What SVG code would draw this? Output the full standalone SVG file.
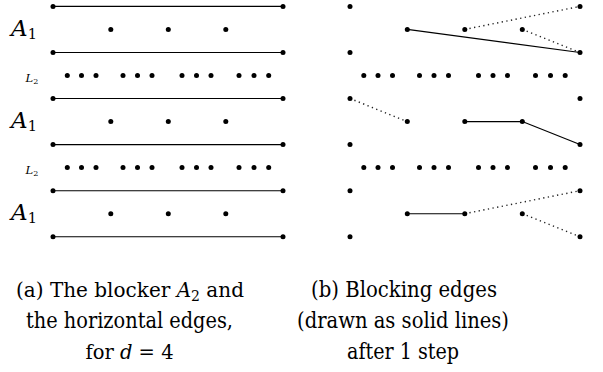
<svg xmlns="http://www.w3.org/2000/svg" width="603" height="372" viewBox="0 0 603 372">
<style>
.dot{fill:#000}
.hl{stroke:#000;stroke-width:1.1;fill:none}
.solid{stroke:#000;stroke-width:1.1;fill:none}
.dotted{stroke:#222;stroke-width:1.4;fill:none;stroke-dasharray:1.3 3.4}
.cap{font-family:"DejaVu Serif",serif;font-size:21.5px;fill:#000}
.lab{font-family:"DejaVu Serif",serif;fill:#000}
</style>
<defs>
<circle id="v" r="2.5" class="dot"/>
<g id="l2row">
<use href="#v" x="67.3"/><use href="#v" x="81.5"/><use href="#v" x="96"/>
<use href="#v" x="123"/><use href="#v" x="137.5"/><use href="#v" x="152"/>
<use href="#v" x="182"/><use href="#v" x="196.5"/><use href="#v" x="211"/>
<use href="#v" x="239"/><use href="#v" x="254"/><use href="#v" x="268.7"/>
</g>
<g id="a1row">
<use href="#v" x="110.8"/><use href="#v" x="168.3"/><use href="#v" x="225.8"/>
</g>
</defs>

<!-- Panel (a) -->
<g id="panel-a">
<g id="a-edges">
<line class="hl" x1="53" y1="6.4" x2="283" y2="6.4"/>
<line class="hl" x1="53" y1="52.5" x2="283" y2="52.5"/>
<line class="hl" x1="53" y1="98.5" x2="283" y2="98.5"/>
<line class="hl" x1="53" y1="144.6" x2="283" y2="144.6"/>
<line class="hl" x1="53" y1="190.7" x2="283" y2="190.7"/>
<line class="hl" x1="53" y1="236.7" x2="283" y2="236.7"/>
</g>
<g id="a-ends">
<use href="#v" x="53" y="6.4"/><use href="#v" x="283" y="6.4"/>
<use href="#v" x="53" y="52.5"/><use href="#v" x="283" y="52.5"/>
<use href="#v" x="53" y="98.5"/><use href="#v" x="283" y="98.5"/>
<use href="#v" x="53" y="144.6"/><use href="#v" x="283" y="144.6"/>
<use href="#v" x="53" y="190.7"/><use href="#v" x="283" y="190.7"/>
<use href="#v" x="53" y="236.7"/><use href="#v" x="283" y="236.7"/>
</g>
<g id="a-A1-1"><use href="#a1row" y="29.4"/></g>
<g id="a-L2-1"><use href="#l2row" y="75.5"/></g>
<g id="a-A1-2"><use href="#a1row" y="121.6"/></g>
<g id="a-L2-2"><use href="#l2row" y="167.6"/></g>
<g id="a-A1-3"><use href="#a1row" y="213.7"/></g>
<g id="a-labels">
<text class="lab" x="11" y="35.5" font-size="23"><tspan font-style="italic">A</tspan><tspan font-size="14.5" dy="3">1</tspan></text>
<text class="lab" x="25.5" y="81.8" font-size="11.5"><tspan font-style="italic">L</tspan><tspan font-size="8" dy="2.5">2</tspan></text>
<text class="lab" x="11" y="127.7" font-size="23"><tspan font-style="italic">A</tspan><tspan font-size="14.5" dy="3">1</tspan></text>
<text class="lab" x="25.5" y="173.9" font-size="11.5"><tspan font-style="italic">L</tspan><tspan font-size="8" dy="2.5">2</tspan></text>
<text class="lab" x="11" y="219.8" font-size="23"><tspan font-style="italic">A</tspan><tspan font-size="14.5" dy="3">1</tspan></text>
</g>
</g>

<!-- Panel (b) -->
<g id="panel-b">
<g id="b-connectors">
<line class="solid" x1="407.3" y1="29.4" x2="580" y2="52.5"/>
<line class="dotted" x1="464.8" y1="29.4" x2="580" y2="6.4"/>
<line class="dotted" x1="522.3" y1="29.4" x2="580" y2="52.5"/>
<line class="dotted" x1="350" y1="98.5" x2="407.3" y2="121.6"/>
<line class="solid" x1="464.8" y1="121.6" x2="522.3" y2="121.6"/>
<line class="solid" x1="522.3" y1="121.6" x2="580" y2="144.6"/>
<line class="solid" x1="407.3" y1="213.7" x2="464.8" y2="213.7"/>
<line class="dotted" x1="464.8" y1="213.7" x2="580" y2="190.7"/>
<line class="dotted" x1="522.3" y1="213.7" x2="580" y2="236.7"/>
</g>
<g id="b-ends">
<use href="#v" x="350" y="6.4"/><use href="#v" x="580" y="6.4"/>
<use href="#v" x="350" y="52.5"/><use href="#v" x="580" y="52.5"/>
<use href="#v" x="350" y="98.5"/><use href="#v" x="580" y="98.5"/>
<use href="#v" x="350" y="144.6"/><use href="#v" x="580" y="144.6"/>
<use href="#v" x="350" y="190.7"/><use href="#v" x="580" y="190.7"/>
<use href="#v" x="350" y="236.7"/><use href="#v" x="580" y="236.7"/>
</g>
<g id="b-A1-1"><use href="#a1row" x="296.5" y="29.4"/></g>
<g id="b-L2-1"><use href="#l2row" x="296.5" y="75.5"/></g>
<g id="b-A1-2"><use href="#a1row" x="296.5" y="121.6"/></g>
<g id="b-L2-2"><use href="#l2row" x="296.5" y="167.6"/></g>
<g id="b-A1-3"><use href="#a1row" x="296.5" y="213.7"/></g>
</g>

<!-- Captions -->
<g id="caption-a">
<text class="cap" x="130" y="296.5" style="font-size:20px" text-anchor="middle">(a) The blocker <tspan font-style="italic">A</tspan><tspan style="font-size:14px" dy="4">2</tspan><tspan dy="-4"> and</tspan></text>
<text class="cap" x="26" y="327.5" textLength="207" lengthAdjust="spacingAndGlyphs">the horizontal edges,</text>
<text class="cap" x="129.5" y="359" style="font-size:19.5px" text-anchor="middle">for <tspan font-style="italic">d</tspan> = 4</text>
</g>
<g id="caption-b">
<text class="cap" x="311" y="296.5" textLength="186" lengthAdjust="spacingAndGlyphs">(b) Blocking edges</text>
<text class="cap" x="297" y="327.5" textLength="212" lengthAdjust="spacingAndGlyphs">(drawn as solid lines)</text>
<text class="cap" x="347" y="359" textLength="112" lengthAdjust="spacingAndGlyphs">after 1 step</text>
</g>
</svg>
